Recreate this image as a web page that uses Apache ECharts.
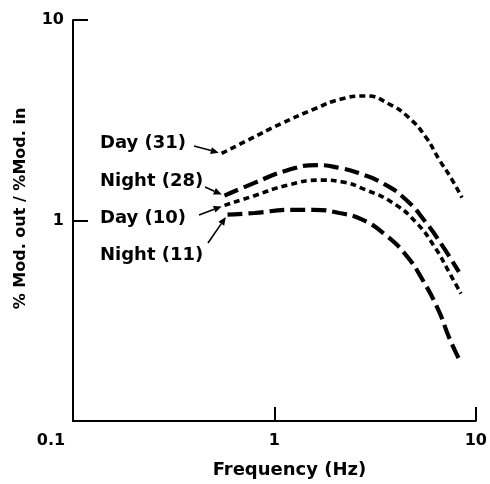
<!DOCTYPE html>
<html>
<head>
<meta charset="utf-8">
<script src="https://cdn.jsdelivr.net/npm/echarts@6/dist/echarts.min.js"></script>
<style>html,body{margin:0;padding:0;background:#fff;}#c{width:490px;height:484px;}</style>
</head>
<body>
<div id="c"></div>
<script>
// ---- data ----
const xTickLabels = ['0.1', '1', '10'];
const yTickLabels = ['0.1', '1', '10'];
const xTitle = 'Frequency (Hz)';
const yTitle = '% Mod. out / %Mod. in';

const day31Freq = [0.547, 0.735, 1.08, 1.58, 2.15, 2.85, 3.71, 4.66, 5.65, 6.56, 7.61, 8.53];
const day31Gain = [2.16, 2.51, 3.04, 3.60, 4.04, 4.18, 3.81, 3.25, 2.60, 2.02, 1.60, 1.30];

const night28Freq = [0.565, 0.796, 1.16, 1.63, 2.15, 2.63, 3.43, 4.50, 5.65, 6.79, 8.24];
const night28Gain = [1.33, 1.54, 1.78, 1.89, 1.82, 1.72, 1.54, 1.27, 0.978, 0.753, 0.554];

const day10Freq = [0.565, 0.796, 1.16, 1.71, 2.15, 2.85, 3.84, 5.05, 6.34, 7.35, 8.43];
const day10Gain = [1.19, 1.33, 1.50, 1.59, 1.56, 1.42, 1.23, 0.978, 0.72, 0.554, 0.432];

const night11Freq = [0.585, 0.796, 1.21, 1.58, 2.10, 2.73, 3.58, 4.50, 5.40, 6.56, 7.35, 8.24];
const night11Gain = [1.07, 1.09, 1.13, 1.13, 1.09, 1.01, 0.844, 0.672, 0.512, 0.352, 0.262, 0.204];

const seriesNames = ['Day (31)', 'Night (28)', 'Day (10)', 'Night (11)'];

// ---- chart ----
const FONT = 'DejaVu Sans';
const chart = echarts.init(document.getElementById('c'), null, {renderer: 'canvas'});

function pairs(xs, ys) { return xs.map((x, i) => [x, ys[i]]); }
const dotted = {color: '#000', width: 3.6, type: [6, 4], cap: 'butt'};
const dashed = {color: '#000', width: 4.2, type: [15, 6], cap: 'butt'};

const seriesData = [
  pairs(day31Freq, day31Gain),
  pairs(night28Freq, night28Gain),
  pairs(day10Freq, day10Gain),
  pairs(night11Freq, night11Gain)
];
const styles = [dotted, dashed, dotted, dashed];

function labelFor(list) {
  return function (v) {
    const e = Math.round(Math.log10(v)) + 1;
    return list[e] !== undefined ? list[e] : '';
  };
}

chart.setOption({
  animation: false,
  backgroundColor: '#fff',
  grid: {left: 73, right: 13, top: 20, bottom: 59, containLabel: false},
  xAxis: {
    type: 'log', logBase: 10, min: 0.1, max: 10,
    name: xTitle, nameLocation: 'middle', nameGap: 40,
    nameTextStyle: {fontFamily: FONT, fontWeight: 'bold', fontSize: 18, color: '#000', padding: [0, 0, 0, 30]},
    axisLine: {show: true, lineStyle: {color: '#000', width: 2}},
    axisTick: {show: true, inside: true, length: 14, lineStyle: {color: '#000', width: 2},
      interval: function (i, v) { return i > 0; }},
    minorTick: {show: false},
    splitLine: {show: false},
    axisLabel: {
      margin: 12,
      fontFamily: FONT, fontWeight: 'bold', fontSize: 16, color: '#000',
      formatter: function (v) {
        const s = labelFor(xTickLabels)(v);
        return s === xTickLabels[0] ? '{p|' + s + '}' : s;
      },
      rich: {p: {fontFamily: FONT, fontWeight: 'bold', fontSize: 16, color: '#000', padding: [0, 44, 0, 0]}}
    }
  },
  yAxis: {
    type: 'log', logBase: 10, min: 0.1, max: 10,
    name: yTitle, nameLocation: 'middle', nameGap: 44, nameRotate: 90,
    nameTextStyle: {fontFamily: FONT, fontWeight: 'bold', fontSize: 16, color: '#000', padding: [0, 0, 0, 24]},
    axisLine: {show: true, lineStyle: {color: '#000', width: 2}},
    axisTick: {show: true, inside: true, length: 15, lineStyle: {color: '#000', width: 2}},
    minorTick: {show: false},
    splitLine: {show: false},
    axisLabel: {
      margin: 9,
      fontFamily: FONT, fontWeight: 'bold', fontSize: 16, color: '#000',
      formatter: function (v) {
        const s = labelFor(yTickLabels)(v);
        return s === yTickLabels[0] ? '' : s;
      }
    }
  },
  series: seriesData.map((d, i) => ({
    name: seriesNames[i],
    type: 'line',
    data: d,
    smooth: 0.5,
    showSymbol: false,
    symbol: 'none',
    lineStyle: styles[i]
  }))
});

// ---- annotations: labels with arrows pointing to each curve's start ----
const labelPos = [[100, 143], [100, 181], [100, 218], [100, 255]];
const arrowTail = [[194, 146], [205, 187], [199, 215], [208, 243]];
const graphics = [];
seriesData.forEach((d, i) => {
  graphics.push({
    type: 'text', x: labelPos[i][0], y: labelPos[i][1],
    style: {text: seriesNames[i], fill: '#000', font: 'bold 18px "DejaVu Sans"', textVerticalAlign: 'middle', textAlign: 'left'}
  });
  const tip0 = chart.convertToPixel({gridIndex: 0}, d[0]);
  const tail = arrowTail[i];
  const dx = tip0[0] - tail[0], dy = tip0[1] - tail[1];
  const len = Math.sqrt(dx * dx + dy * dy);
  const ux = dx / len, uy = dy / len;
  const tip = [tip0[0] - ux * 3, tip0[1] - uy * 3];
  const hl = 8, hw = 3.5;
  const base = [tip[0] - ux * hl, tip[1] - uy * hl];
  graphics.push({
    type: 'line', shape: {x1: tail[0], y1: tail[1], x2: base[0], y2: base[1]},
    style: {stroke: '#000', lineWidth: 1.6}
  });
  graphics.push({
    type: 'polygon',
    shape: {points: [tip, [base[0] - uy * hw, base[1] + ux * hw], [base[0] + uy * hw, base[1] - ux * hw]]},
    style: {fill: '#000'}
  });
});
chart.setOption({graphic: graphics});
</script>
</body>
</html>
